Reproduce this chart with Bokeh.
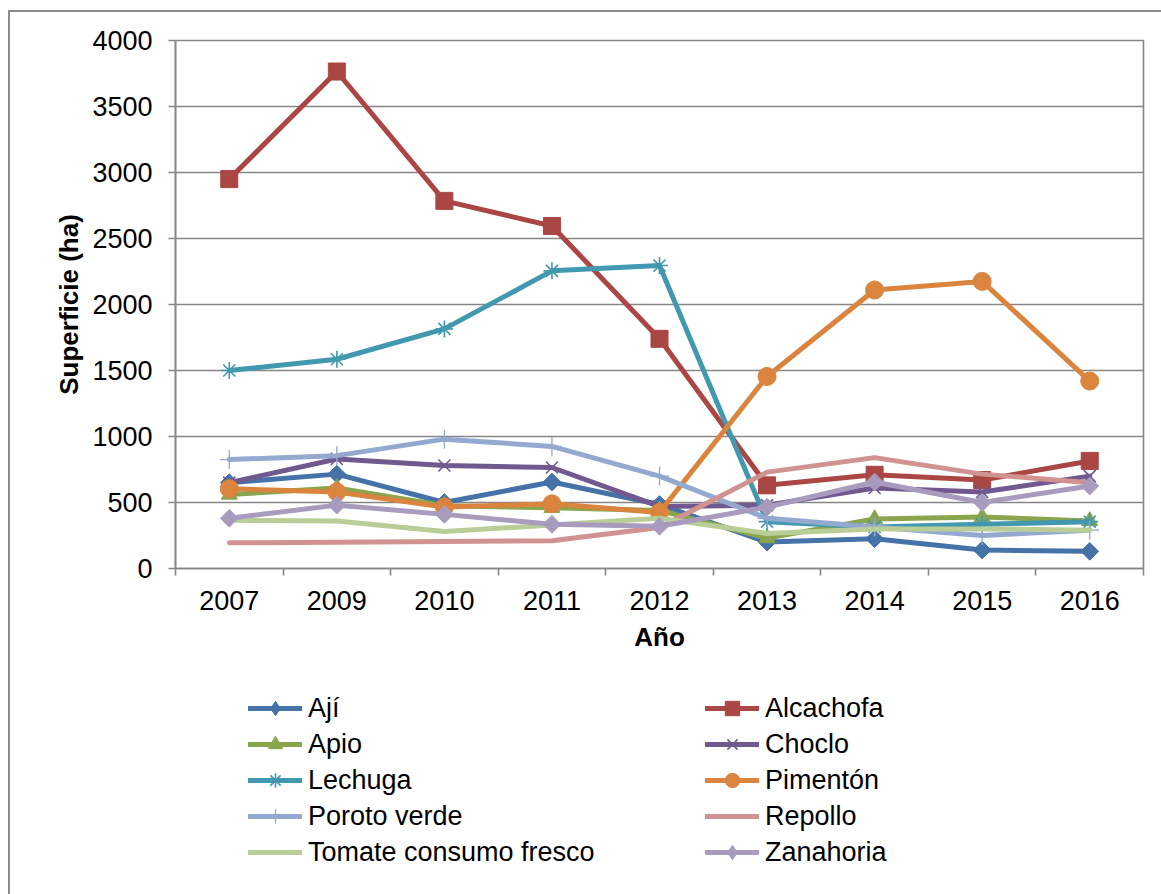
import numpy as np
from bokeh.plotting import figure
from bokeh.layouts import column
from bokeh.models import FixedTicker, Legend, LegendItem
from bokeh.embed import file_html
from bokeh.resources import INLINE

# Superficie cultivada (ha) por especie hortícola y año
years = ["2007", "2009", "2010", "2011", "2012", "2013", "2014", "2015", "2016"]
aji = [650, 715, 500, 655, 485, 200, 225, 140, 130]
alcachofa = [2950, 3765, 2785, 2595, 1740, 630, 710, 670, 815]
apio = [560, 610, 475, 460, 440, 230, 375, 390, 360]
choclo = [650, 830, 780, 765, 470, 480, 610, 580, 700]
lechuga = [1500, 1585, 1815, 2255, 2295, 355, 315, 335, 355]
pimenton = [605, 580, 465, 490, 425, 1455, 2110, 2175, 1420]
poroto_verde = [825, 855, 980, 925, 700, 380, 315, 250, 290]
repollo = [195, 198, 205, 210, 310, 730, 840, 715, 650]
tomate = [365, 360, 280, 330, 380, 265, 300, 300, 290]
zanahoria = [380, 480, 410, 335, 320, 465, 655, 500, 625]
y_ticks = [0, 500, 1000, 1500, 2000, 2500, 3000, 3500, 4000]

FONT = "Liberation Sans"
GRAY = "#868686"

series = [
    ("Ají", aji, "#4572A7", "diamond"),
    ("Alcachofa", alcachofa, "#AA4643", "square"),
    ("Apio", apio, "#89A54E", "triangle"),
    ("Choclo", choclo, "#71588F", "x"),
    ("Lechuga", lechuga, "#4198AF", "asterisk"),
    ("Pimentón", pimenton, "#DB843D", "circle"),
    ("Poroto verde", poroto_verde, "#93A9CF", "cross"),
    ("Repollo", repollo, "#D19392", None),
    ("Tomate consumo fresco", tomate, "#B9CD96", None),
    ("Zanahoria", zanahoria, "#A99BBD", "diamond"),
]

# category centres sit halfway between the boundary ticks
xs = [i + 0.5 for i in range(len(years))]


def draw_series(fig, vals, color, marker, in_legend=False):
    rs = [fig.line(xs, vals, line_color=color, line_width=5,
                   line_join="round", line_cap="round")]
    if marker == "diamond":
        if in_legend:
            # legend swatches ignore marker angle, so use the native rhombus
            rs.append(fig.scatter(xs, vals, marker="diamond", size=18,
                                  fill_color=color, line_color=color))
        else:
            rs.append(fig.scatter(xs, vals, marker="square", angle=np.pi / 4, size=12.5,
                                  fill_color=color, line_color=color))
    elif marker == "square":
        rs.append(fig.scatter(xs, vals, marker="square", size=17,
                              fill_color=color, line_color=color))
    elif marker == "triangle":
        rs.append(fig.scatter(xs, vals, marker="triangle", size=16,
                              fill_color=color, line_color=color))
    elif marker == "circle":
        rs.append(fig.scatter(xs, vals, marker="circle", size=18,
                              fill_color=color, line_color=color))
    elif marker in ("x", "asterisk"):
        rs.append(fig.scatter(xs, vals, marker=marker, size=17,
                              line_color=color, line_width=1.6))
    elif marker == "cross":
        rs.append(fig.scatter(xs, vals, marker="cross", size=19,
                              line_color=color, line_width=1.3))
    return rs


# ---- main chart ----
p = figure(
    width=1151, height=650,
    x_range=(0, len(years)), y_range=(0, 4000),
    output_backend="svg", toolbar_location=None,
    min_border_left=165, min_border_right=18,
    min_border_top=28, min_border_bottom=94,
)
p.background_fill_color = "white"
p.border_fill_color = "white"
p.outline_line_color = GRAY
p.outline_line_width = 1.6

p.xgrid.grid_line_color = None
p.ygrid.grid_line_color = GRAY
p.ygrid.grid_line_width = 1.6
p.ygrid.ticker = FixedTicker(ticks=y_ticks)

p.yaxis.ticker = FixedTicker(ticks=y_ticks)
p.yaxis.axis_line_color = GRAY
p.yaxis.axis_line_width = 1.6
p.yaxis.major_tick_line_color = GRAY
p.yaxis.major_tick_line_width = 1.6
p.yaxis.major_tick_out = 7
p.yaxis.major_tick_in = 0
p.yaxis.minor_tick_line_color = None
p.yaxis.major_label_text_font = FONT
p.yaxis.major_label_text_font_size = "27px"
p.yaxis.major_label_text_color = "black"
p.yaxis.major_label_standoff = 16
p.yaxis.axis_label = "Superficie (ha)"
p.yaxis.axis_label_text_font = FONT
p.yaxis.axis_label_text_font_size = "26px"
p.yaxis.axis_label_text_font_style = "bold"
p.yaxis.axis_label_text_color = "black"
p.yaxis.axis_label_standoff = 5

p.xaxis.ticker = FixedTicker(ticks=xs, minor_ticks=list(range(len(years) + 1)))
p.xaxis.major_label_overrides = {x: y for x, y in zip(xs, years)}
p.xaxis.axis_line_color = GRAY
p.xaxis.axis_line_width = 1.6
p.xaxis.major_tick_line_color = None
p.xaxis.major_tick_out = 0
p.xaxis.major_tick_in = 0
p.xaxis.minor_tick_line_color = GRAY
p.xaxis.minor_tick_line_width = 1.6
p.xaxis.minor_tick_out = 7
p.xaxis.minor_tick_in = 0
p.xaxis.major_label_text_font = FONT
p.xaxis.major_label_text_font_size = "27px"
p.xaxis.major_label_text_color = "black"
p.xaxis.major_label_standoff = 15
p.xaxis.axis_label = "Año"
p.xaxis.axis_label_text_font = FONT
p.xaxis.axis_label_text_font_size = "26px"
p.xaxis.axis_label_text_font_style = "bold"
p.xaxis.axis_label_text_color = "black"
p.xaxis.axis_label_standoff = 9

for name, vals, color, marker in series:
    draw_series(p, vals, color, marker)

# ---- legend panel: same series, drawn outside its visible range ----
lp = figure(
    width=1151, height=232,
    x_range=(0, len(years)), y_range=(10000, 11000),
    x_axis_type=None, y_axis_type=None,
    output_backend="svg", toolbar_location=None,
    min_border=0, min_border_left=0, min_border_right=0,
    min_border_top=0, min_border_bottom=0,
)
lp.background_fill_color = "white"
lp.border_fill_color = "white"
lp.outline_line_color = None
lp.grid.grid_line_color = None

items = [LegendItem(label=name, renderers=draw_series(lp, vals, color, marker, True))
         for name, vals, color, marker in series]


def make_legend(its, vx):
    lg = Legend(items=its, location=(vx, 24), orientation="vertical")
    lg.glyph_width = 54
    lg.glyph_height = 36
    lg.label_height = 36
    lg.spacing = 0
    lg.padding = 0
    lg.margin = 0
    lg.label_standoff = 6
    lg.label_text_font = FONT
    lg.label_text_font_size = "27px"
    lg.label_text_color = "black"
    lg.border_line_color = None
    lg.background_fill_alpha = 0
    return lg


lp.add_layout(make_legend(items[0::2], 73), "center")
lp.add_layout(make_legend(items[1::2], 530), "center")

layout = column(p, lp, spacing=0)
layout.styles = {
    "margin-left": "8px", "margin-top": "10px",
    "border-left": "2px solid #8c8c8c", "border-top": "2px solid #8c8c8c",
}

open("out.html", "w").write(file_html(layout, INLINE))
